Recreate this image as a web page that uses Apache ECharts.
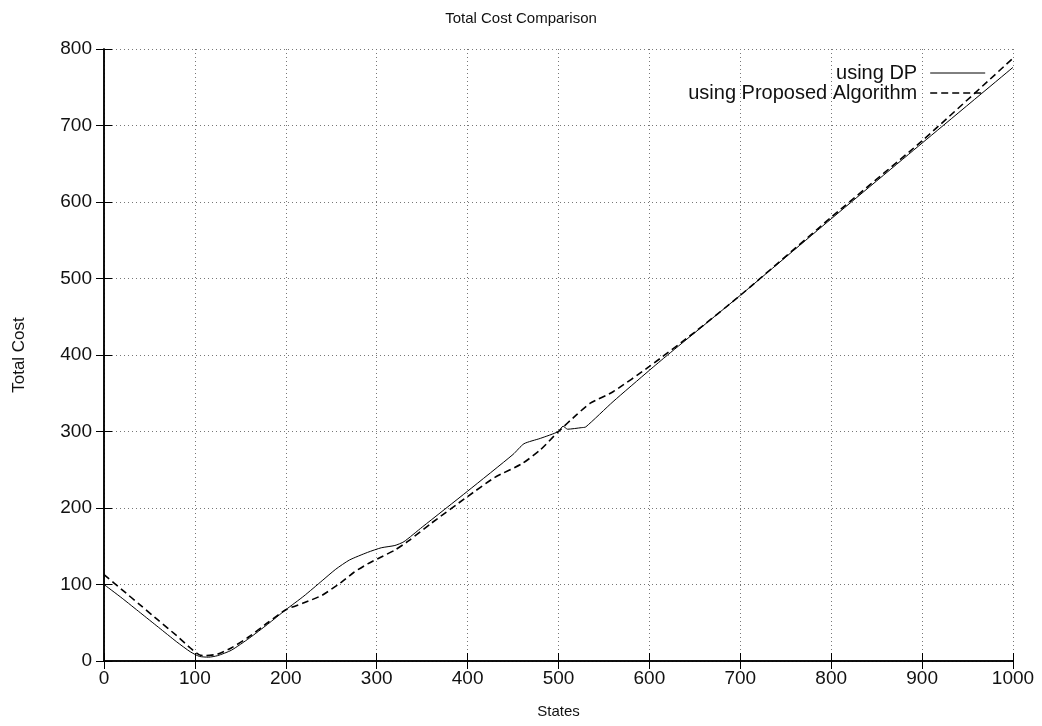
<!DOCTYPE html>
<html>
<head>
<meta charset="utf-8">
<script src="https://cdn.jsdelivr.net/npm/echarts@6/dist/echarts.min.js"></script>
<style>html,body{margin:0;padding:0;background:#fff;}#c{width:1042px;height:726px;}</style>
</head>
<body>
<div id="c"></div>
<script>
const seriesNames = ["using DP", "using Proposed Algorithm"];
const dpX = [0,20,40,60,80,95,105,115,125,140,160,180,200,220,240,255,270,290,305,320,330,350,400,450,462,480,500,505,510,525,530,560,600,620,700,800,900,1000];
const dpY = [100,82,63,44,25,12,6,5,7,14,30,48,67,85,105,120,132,142,148,151,156,175,222,270,284,291,300,307,303,305,306,339,380,400,478,578,677,776];
const paX = [0,20,40,60,80,95,105,112,125,140,160,180,200,220,240,260,275,290,305,320,335,360,400,430,460,480,500,520,535,560,600,650,700,800,900,1000];
const paY = [113,93,73,53,33,17,8,7,9,17,32,50,67,76,86,102,116,127,136,145,157,180,215,240,258,276,300,322,337,352,385,430,478,580,680,788];
const xTicks = [0,100,200,300,400,500,600,700,800,900,1000];
const yTicks = [0,100,200,300,400,500,600,700,800];

const zip = (xs, ys) => xs.map((x, i) => [x, ys[i]]);
const font = 'Liberation Sans, Arial, Helvetica, sans-serif';

const chart = echarts.init(document.getElementById('c'));
const gridLine = {show: true, lineStyle: {color: '#777', type: [1, 3], width: 1}};
const border = {show: true, lineStyle: {color: '#000', width: 1.5}};
const tick = {show: true, inside: true, length: 8, lineStyle: {color: '#000'}};
chart.setOption({
  animation: false,
  backgroundColor: '#fff',
  title: {text: 'Total Cost Comparison', left: 'center', top: 6,
    textStyle: {fontFamily: font, fontSize: 15, fontWeight: 'normal', color: '#111'}},
  legend: {
    orient: 'vertical', right: 51, top: 58, align: 'right', itemGap: 0,
    itemWidth: 55, itemHeight: 10,
    itemStyle: {opacity: 0},
    lineStyle: {width: 'inherit'},
    textStyle: {fontFamily: font, fontSize: 20, color: '#111', padding: [0, 8, 0, 0]},
    data: seriesNames
  },
  grid: {left: 104, right: 29, top: 49, bottom: 65},
  xAxis: [{
    type: 'value', min: xTicks[0], max: xTicks[xTicks.length - 1], interval: 100,
    name: 'States', nameLocation: 'middle', nameGap: 43,
    nameTextStyle: {fontFamily: font, fontSize: 15, color: '#111'},
    axisLine: border, axisTick: tick,
    axisLabel: {fontFamily: font, fontSize: 19, color: '#111', margin: 8, formatter: v => String(v)},
    splitLine: gridLine
  }, {
    type: 'value', position: 'top', min: xTicks[0], max: xTicks[xTicks.length - 1], interval: 100,
    axisLine: border, axisTick: tick,
    axisLabel: {show: false}, splitLine: {show: false}
  }],
  yAxis: [{
    type: 'value', min: yTicks[0], max: yTicks[yTicks.length - 1], interval: 100,
    name: 'Total Cost', nameLocation: 'middle', nameGap: 76, nameRotate: 90,
    nameTextStyle: {fontFamily: font, fontSize: 17, color: '#111'},
    axisLine: border, axisTick: tick,
    axisLabel: {fontFamily: font, fontSize: 19, color: '#111', margin: 12, formatter: v => String(v)},
    splitLine: gridLine
  }, {
    type: 'value', position: 'right', min: yTicks[0], max: yTicks[yTicks.length - 1], interval: 100,
    axisLine: border, axisTick: tick,
    axisLabel: {show: false}, splitLine: {show: false}
  }],
  series: [{
    name: seriesNames[0], type: 'line', data: zip(dpX, dpY), showSymbol: false, symbol: 'none',
    smooth: 0.2, color: '#000', lineStyle: {color: '#000', width: 1, type: 'solid'}
  }, {
    name: seriesNames[1], type: 'line', data: zip(paX, paY), showSymbol: false, symbol: 'none',
    smooth: 0.2, color: '#000', lineStyle: {color: '#000', width: 1.6, type: [7, 4]}
  }]
});
</script>
</body>
</html>
